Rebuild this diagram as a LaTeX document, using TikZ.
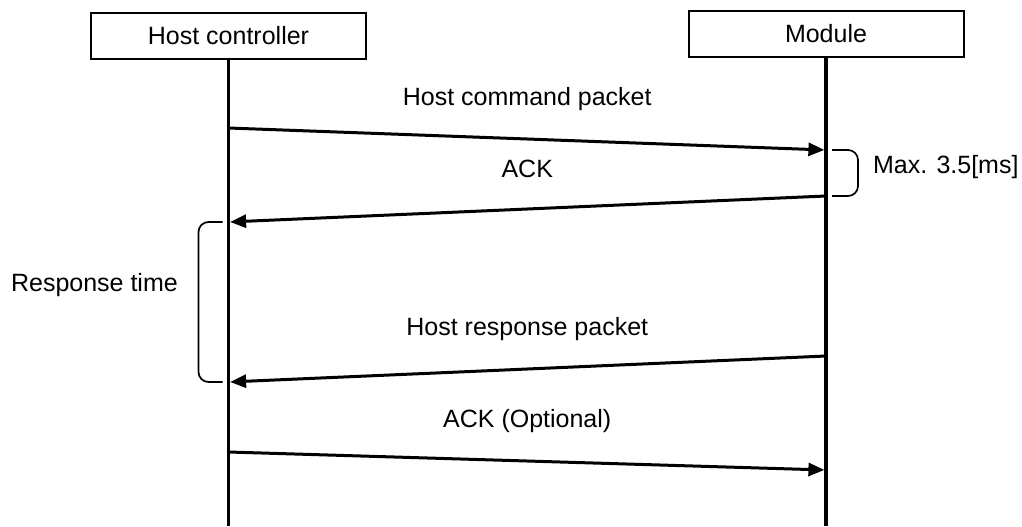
\documentclass[tikz,border=0pt]{standalone}
\usepackage{fontspec}
\setmainfont{Liberation Sans}
\usetikzlibrary{arrows.meta,positioning}

\begin{document}
\begin{tikzpicture}[x=0.5pt,y=-0.5pt,
    party/.style={draw,line width=1pt,minimum width=137.5pt,minimum height=23pt,inner sep=0pt},
    life/.style={line width=1.7pt},
    msg/.style={line width=1.5pt,-{Triangle[length=8pt,width=6.5pt]},shorten >=0.8pt},
    lbl/.style={font=\fontsize{12.5}{15}\selectfont},
    brace/.style={line width=0.85pt,rounded corners=5pt}]
  \useasboundingbox (0,0) rectangle (1022,526);
  \node[party,lbl] (host) at (228.5,36) {Host controller};
  \node[party,lbl] (module) at (826,33.5) {Module};
  \coordinate (host end) at (host.south |- 0,526);
  \coordinate (module end) at (module.south |- 0,526);
  \draw[life] (host.south) -- (host end);
  \draw[life] (module.south) -- (module end);
  % points on the life lines
  \coordinate (h1) at (host.south |- 0,128);
  \coordinate (m1) at (module.south |- 0,150);
  \coordinate (m2) at (module.south |- 0,196);
  \coordinate (h2) at (host.south |- 0,222);
  \coordinate (m3) at (module.south |- 0,356);
  \coordinate (h3) at (host.south |- 0,382);
  \coordinate (h4) at (host.south |- 0,452);
  \coordinate (m4) at (module.south |- 0,470);
  \path[msg]
    (h1) edge node[lbl,midway,yshift=20pt] (cmd) {Host command packet} (m1)
    (m2) edge node[lbl,midway,yshift=20pt] (ack) {ACK} (h2)
    (m3) edge node[lbl,midway,yshift=20pt] (resp) {Host response packet} (h3)
    (h4) edge node[lbl,midway,yshift=20pt] (ackopt) {ACK (Optional)} (m4);
  % braces
  \draw[brace] ([xshift=3pt]m1) -| ([xshift=16pt]m2) -- ([xshift=3pt]m2);
  \node[lbl,anchor=west] (max) at (866,167) {Max. 3.5[ms]};
  \draw[brace] ([xshift=-3pt]h2) -| ([xshift=-15pt]h3) -- ([xshift=-3pt]h3);
  \node[lbl,anchor=west] (rtime) at (4,285) {Response time};
\end{tikzpicture}
\end{document}
